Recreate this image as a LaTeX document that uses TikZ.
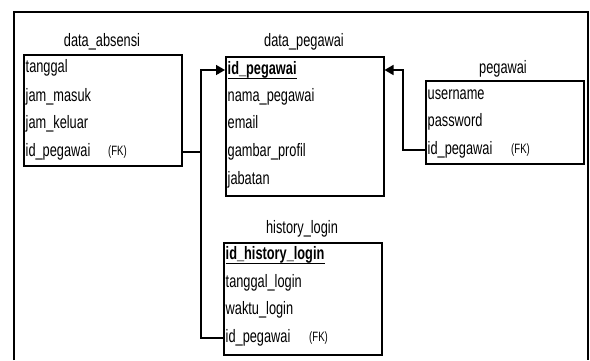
\documentclass[tikz,border=0pt]{standalone}
\usepackage{fontspec}
\setmainfont{Liberation Sans}[FakeStretch=0.71]
\usetikzlibrary{arrows.meta}
\begin{document}
\begin{tikzpicture}[x=1pt,y=-1pt,
  tbl/.style={draw,line width=1.5pt,anchor=north west,inner sep=0pt},
  ttl/.style={font=\fontsize{18}{19}\selectfont,inner sep=0pt},
  fld/.style={anchor=west,inner sep=0pt,font=\fontsize{18}{19}\selectfont,text height=13pt,text depth=4pt},
  pk/.style={fld,font=\fontsize{18}{19}\selectfont\bfseries},
  fk/.style={anchor=west,inner sep=0pt,font=\fontsize{13.5}{14}\selectfont},
  link/.style={line width=1.5pt},
  tip/.style={-{Triangle[length=9pt,width=10pt]}}]
\useasboundingbox (0,0) rectangle (590,360);
% outer frame
\draw[line width=1.2pt] (14,360) -- (14,12) -- (588,12) -- (588,360);

% data_absensi
\node[tbl,minimum width=158pt,minimum height=111pt] (ab) at (23,54) {};
\node[ttl] (abt) at (102,42) {data\_absensi};
\node[fld] (ab1) at (25.5,68) {tanggal};
\node[fld] (ab2) at (25.5,97) {jam\_masuk};
\node[fld] (ab3) at (25.5,124) {jam\_keluar};
\node[fld] (ab4) at (25.5,152) {id\_pegawai};
\node[fk] (ab4k) at (108,152) {(FK)};

% data_pegawai
\node[tbl,minimum width=158pt,minimum height=139pt] (dp) at (225,56) {};
\node[ttl] (dpt) at (304,42) {data\_pegawai};
\node[pk] (dp1) at (227.5,70) {id\_pegawai};
\draw[line width=1pt] (dp1.south west) ++(0,0) coordinate (u1) -- (dp1.south east |- u1);
\node[fld] (dp2) at (227.5,97) {nama\_pegawai};
\node[fld] (dp3) at (227.5,124) {email};
\node[fld] (dp4) at (227.5,152) {gambar\_profil};
\node[fld] (dp5) at (227.5,180) {jabatan};

% pegawai
\node[tbl,minimum width=158pt,minimum height=83pt] (pw) at (425,80) {};
\node[ttl] (pwt) at (503,69) {pegawai};
\node[fld] (pw1) at (427.5,95) {username};
\node[fld] (pw2) at (427.5,122) {password};
\node[fld] (pw3) at (427.5,150) {id\_pegawai};
\node[fk] (pw3k) at (511,150) {(FK)};

% history_login
\node[tbl,minimum width=158pt,minimum height=112pt] (hl) at (223,242) {};
\node[ttl] (hlt) at (302,229) {history\_login};
\node[pk] (hl1) at (225.5,255) {id\_history\_login};
\draw[line width=1pt] (hl1.south west) ++(0,0) coordinate (u2) -- (hl1.south east |- u2);
\node[fld] (hl2) at (225.5,283) {tanggal\_login};
\node[fld] (hl3) at (225.5,310) {waktu\_login};
\node[fld] (hl4) at (225.5,338) {id\_pegawai};
\node[fk] (hl4k) at (309,338) {(FK)};

% relations
\coordinate (jx) at (201,0);
\coordinate (px) at (403,0);
\draw[link,tip] (ab.east |- ab4) -- (jx |- ab4) -- (jx |- dp1) -- (dp.west |- dp1);
\draw[link] (hl.west |- hl4) -- (jx |- hl4) -- (jx |- ab4);
\draw[link,tip] (pw.west |- pw3) -- (px |- pw3) -- (px |- dp1) -- (dp.east |- dp1);
\end{tikzpicture}
\end{document}
